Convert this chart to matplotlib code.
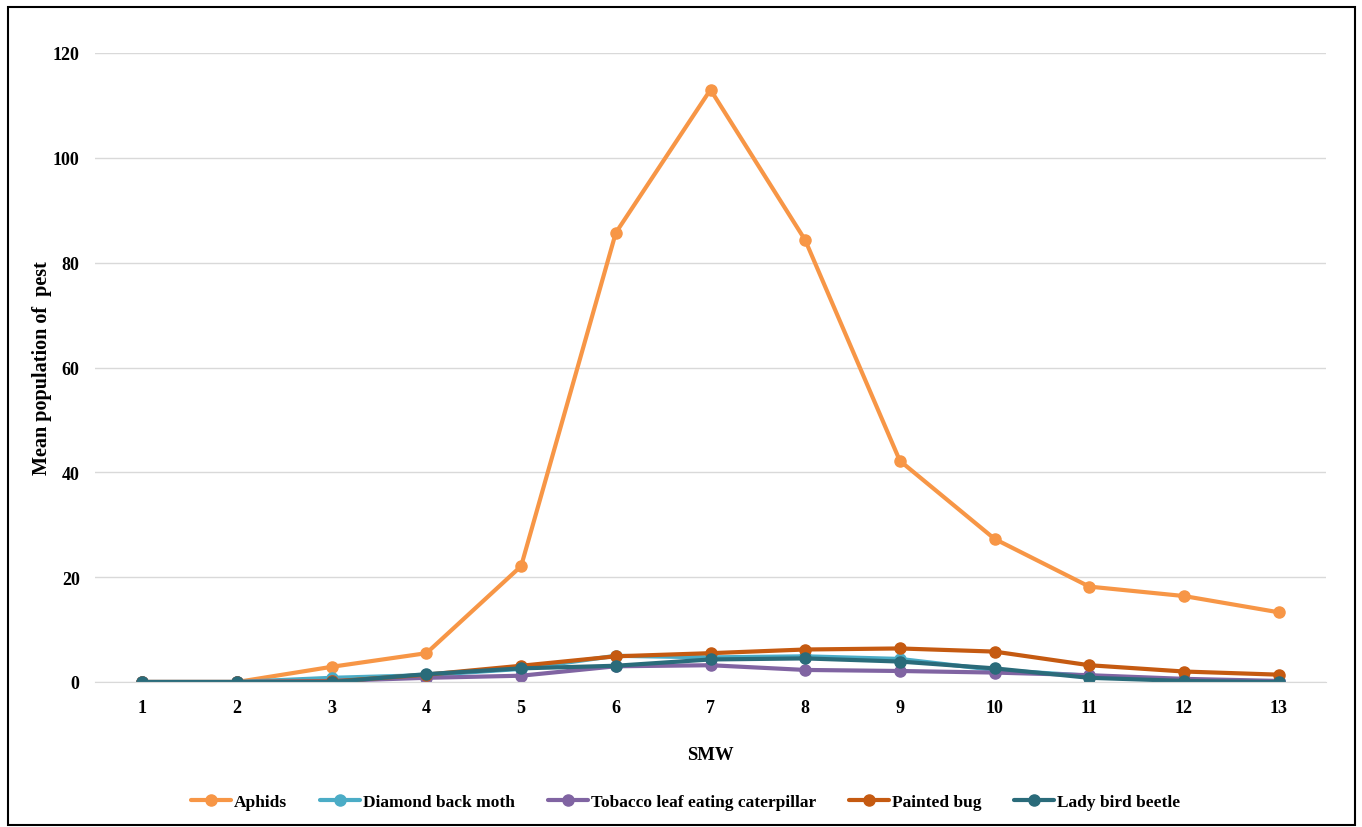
import matplotlib.pyplot as plt
from matplotlib.patches import Rectangle

plt.rcParams['font.family'] = ['Liberation Serif', 'DejaVu Serif']
plt.rcParams['font.weight'] = 'bold'

smw = list(range(1, 14))
aphids = [0, 0, 2.9, 5.5, 22.1, 85.7, 113.0, 84.3, 42.2, 27.3, 18.2, 16.4, 13.3]
diamond = [0, 0, 0.8, 1.3, 2.5, 5.0, 4.7, 4.9, 4.4, 2.3, 1.2, 0.4, 0.1]
tobacco = [0, 0, 0.2, 0.8, 1.2, 3.0, 3.2, 2.3, 2.1, 1.8, 1.3, 0.6, 0.2]
painted = [0, 0, 0.1, 1.4, 3.1, 4.9, 5.5, 6.2, 6.4, 5.8, 3.2, 2.0, 1.4]
ladybird = [0, 0, 0.0, 1.5, 2.6, 3.1, 4.3, 4.5, 3.9, 2.6, 0.8, 0.2, 0.0]

series = [
    ("Aphids", aphids, "#F79646"),
    ("Diamond back moth", diamond, "#4BACC6"),
    ("Tobacco leaf eating caterpillar", tobacco, "#8064A2"),
    ("Painted bug", painted, "#C55A11"),
    ("Lady bird beetle", ladybird, "#2A6B7A"),
]

fig = plt.figure(figsize=(13.62, 8.28), dpi=100)
ax = fig.add_axes([95 / 1362, 1 - 683 / 828, 1231 / 1362, 629 / 828])

for name, vals, col in series:
    ax.plot(smw, vals, color=col, linewidth=3, marker='o', markersize=8,
            label=name, solid_capstyle='round')

ax.set_xlim(0.5, 13.5)
ax.set_ylim(0, 120)
ax.set_yticks(range(0, 121, 20))
ax.set_xticks(smw)
ax.grid(axis='y', color='#D9D9D9', linewidth=1)
ax.set_axisbelow(True)
for s in ['top', 'right', 'left']:
    ax.spines[s].set_visible(False)
ax.spines['bottom'].set_color('#D9D9D9')
ax.tick_params(length=0, labelsize=13, pad=12)
ax.tick_params(axis='y', pad=11)
ax.set_xlabel('SMW', fontsize=13.5, fontweight='bold')
ax.xaxis.set_label_coords(0.5, -0.102)
ax.set_ylabel('Mean population of  pest', fontsize=14.5, fontweight='bold')
ax.yaxis.set_label_coords(-0.035, 0.5)

ax.legend(loc='center', bbox_to_anchor=(0.480, -0.19), ncol=5, frameon=False,
          fontsize=12.5, handlelength=2.3, columnspacing=1.9, handletextpad=0.17)

fig.patches.append(Rectangle((8 / 1362, 2 / 828), 1347 / 1362, 818 / 828,
                             transform=fig.transFigure, fill=False,
                             edgecolor='black', linewidth=1.5))

fig.savefig('out.png', dpi=100)
